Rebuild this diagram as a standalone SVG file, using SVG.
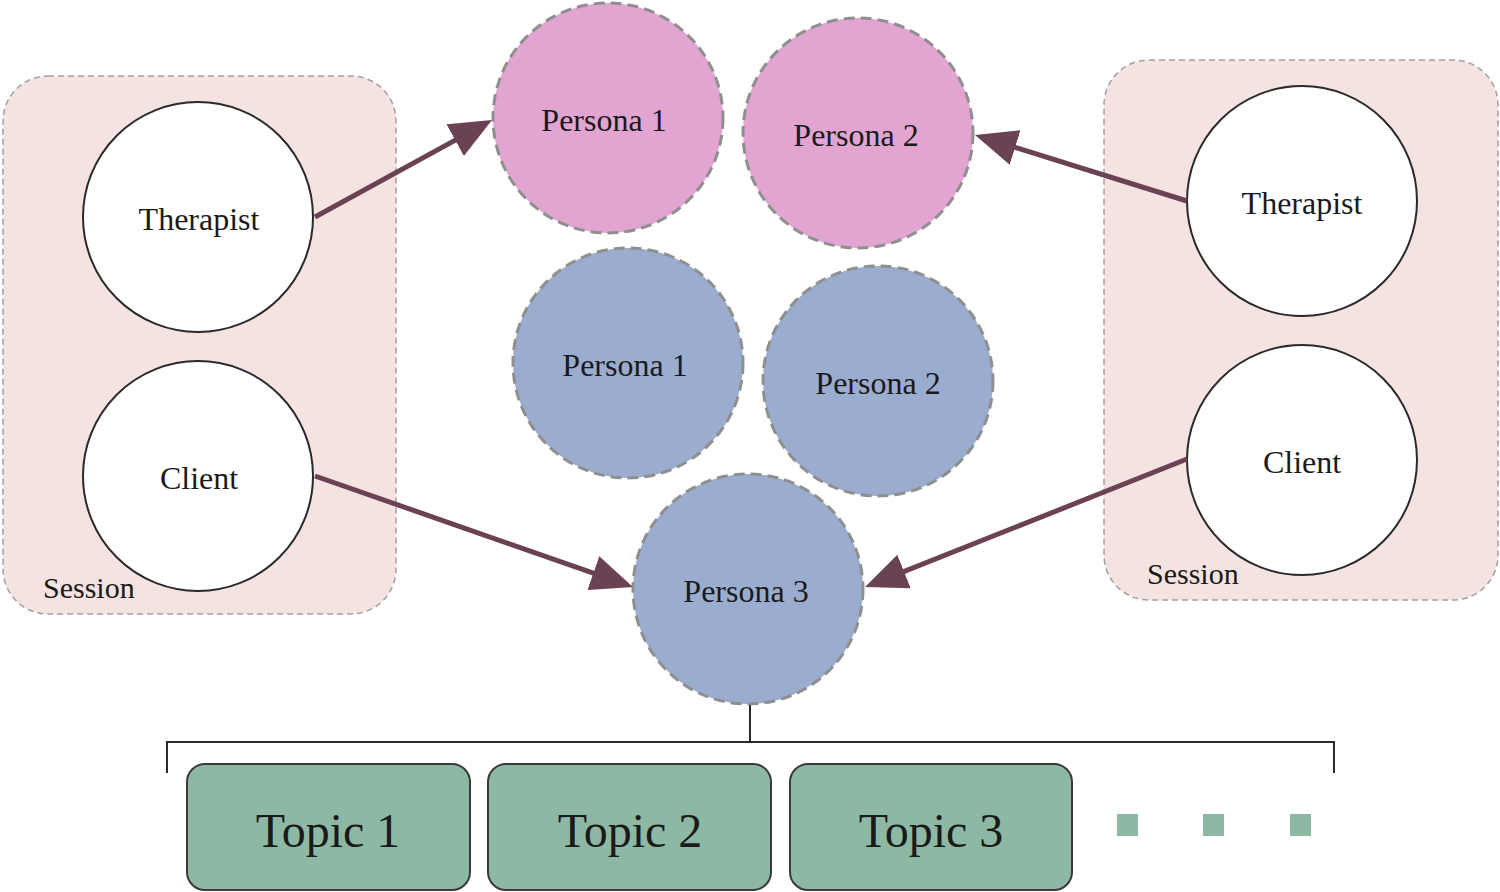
<svg xmlns="http://www.w3.org/2000/svg" width="1500" height="892" viewBox="0 0 1500 892">
<defs>
<style>
.session{fill:#f5e3e1;stroke:#a0a0a0;stroke-width:1.5;stroke-dasharray:6 4}
.role{fill:#ffffff;stroke:#2a2a2a;stroke-width:2}
.pink{fill:#e2a5d1;stroke:#8f8f8f;stroke-width:3;stroke-dasharray:11 6}
.blue{fill:#9aadcf;stroke:#8f8f8f;stroke-width:3;stroke-dasharray:11 6}
.topic{fill:#8cb8a4;stroke:#3a3a3a;stroke-width:2}
.dot{fill:#8cb8a4}
.t{font-family:"Liberation Serif","DejaVu Serif",serif;fill:#1a1a1a;text-anchor:middle;dominant-baseline:central}
.lbl{font-size:32px}
.big{font-size:48px}
.sess{font-family:"Liberation Serif","DejaVu Serif",serif;fill:#1a1a1a;font-size:30px}
.arrow{stroke:#6b4254;stroke-width:5;fill:none}
.tree{stroke:#2a2a2a;stroke-width:2;fill:none}
</style>
<marker id="ah" viewBox="0 0 42 36" markerWidth="42" markerHeight="36" refX="22" refY="18" orient="auto" markerUnits="userSpaceOnUse">
<path d="M0,0 L42,18 L0,36 z" fill="#6b4254"/>
</marker>
</defs>
<rect width="1500" height="892" fill="#ffffff"/>

<g id="session-left">
<rect class="session" x="3" y="76" width="393" height="538" rx="45"/>
<text class="sess" x="43" y="598">Session</text>
</g>
<g id="session-right">
<rect class="session" x="1104" y="60" width="394" height="540" rx="45"/>
<text class="sess" x="1147" y="584">Session</text>
</g>

<g id="therapist-left">
<circle class="role" cx="198" cy="217" r="115"/>
<text class="t lbl" x="199" y="219">Therapist</text>
</g>
<g id="client-left">
<circle class="role" cx="198" cy="476" r="115"/>
<text class="t lbl" x="199" y="478">Client</text>
</g>
<g id="therapist-right">
<circle class="role" cx="1302" cy="201" r="115"/>
<text class="t lbl" x="1302" y="203">Therapist</text>
</g>
<g id="client-right">
<circle class="role" cx="1302" cy="460" r="115"/>
<text class="t lbl" x="1302" y="462">Client</text>
</g>

<g id="persona1-pink">
<circle class="pink" cx="608" cy="118" r="115"/>
<text class="t lbl" x="604" y="120">Persona 1</text>
</g>
<g id="persona2-pink">
<circle class="pink" cx="858" cy="133" r="115"/>
<text class="t lbl" x="856" y="135">Persona 2</text>
</g>
<g id="persona1-blue">
<circle class="blue" cx="628" cy="363" r="115"/>
<text class="t lbl" x="625" y="365">Persona 1</text>
</g>
<g id="persona2-blue">
<circle class="blue" cx="878" cy="381" r="115"/>
<text class="t lbl" x="878" y="383">Persona 2</text>
</g>
<g id="persona3">
<circle class="blue" cx="748" cy="589" r="115"/>
<text class="t lbl" x="746" y="591">Persona 3</text>
</g>

<g id="connectors">
<path class="arrow" d="M315,217 L474.5,129.6" marker-end="url(#ah)"/>
<path class="arrow" d="M1187,201 L994.1,140.9" marker-end="url(#ah)"/>
<path class="arrow" d="M315,476 L614.1,580.4" marker-end="url(#ah)"/>
<path class="arrow" d="M1187,459 L883.6,579.6" marker-end="url(#ah)"/>
<path class="tree" d="M750,705 V742 M167,773 V742 H1334 V773"/>
</g>

<g id="topic1">
<rect class="topic" x="187" y="764" width="283" height="126" rx="18"/>
<text class="t big" x="328" y="830">Topic 1</text>
</g>
<g id="topic2">
<rect class="topic" x="488" y="764" width="283" height="126" rx="18"/>
<text class="t big" x="630" y="830">Topic 2</text>
</g>
<g id="topic3">
<rect class="topic" x="790" y="764" width="282" height="126" rx="18"/>
<text class="t big" x="931" y="830">Topic 3</text>
</g>
<g id="ellipsis">
<rect class="dot" x="1117" y="814" width="21" height="22"/>
<rect class="dot" x="1203" y="814" width="21" height="22"/>
<rect class="dot" x="1290" y="814" width="21" height="22"/>
</g>
</svg>
